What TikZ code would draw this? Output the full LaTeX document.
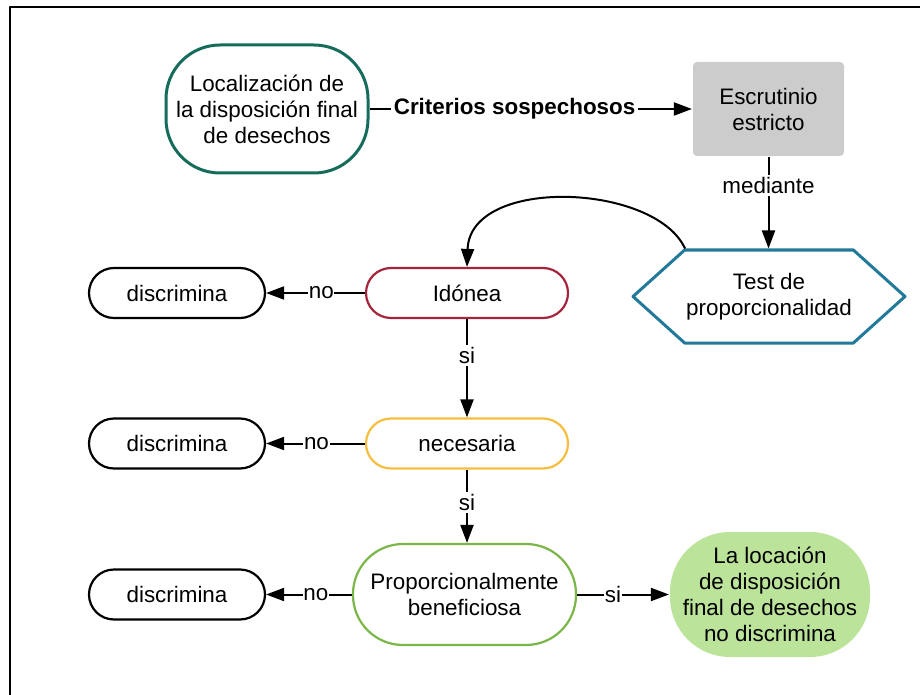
\documentclass[tikz,border=0pt]{standalone}
\usepackage{fontspec}
\setmainfont{Liberation Sans}
\usetikzlibrary{arrows.meta,shapes.symbols}
\definecolor{verdeosc}{RGB}{22,108,90}
\definecolor{rojoido}{RGB}{163,36,59}
\definecolor{amarillo}{RGB}{246,190,62}
\definecolor{verdeprop}{RGB}{122,182,72}
\definecolor{verdefin}{RGB}{188,227,154}
\definecolor{azultest}{RGB}{34,121,154}
\definecolor{grisesc}{RGB}{204,204,204}
\begin{document}
\begin{tikzpicture}[x=.5pt,y=-.5pt,line cap=butt,line join=round,>={Triangle[length=9pt,width=6.5pt]},font=\fontsize{11.2}{13}\selectfont]
	\tikzset{caja/.style={draw,line width=1.1pt,fill=white,align=center,inner sep=0pt},
		pildora/.style={caja,rounded corners=12.5pt,minimum height=25pt},
		etiq/.style={fill=white,inner sep=.3pt},
		flecha/.style={->,line width=1pt}
	}
	\useasboundingbox (0,0) rectangle (920,695);
	\draw[line width=1pt] (10,695)--(10,7)--(920,7);
	% parte superior
	\node[caja,draw=verdeosc,line width=1.5pt,rounded corners=27pt,minimum width=101pt,minimum height=64pt] (local) at (267,109) {Localización de\\la disposición final\\de desechos};
	\node[caja,draw=none,fill=grisesc,rounded corners=2pt,minimum width=75.5pt,minimum height=47pt] (escr) at (768.5,109) {Escrutinio\\estricto};
	\node[caja,draw=azultest,line width=1.5pt,shape=signal,signal to=east and west,signal pointer angle=84,minimum width=136pt,minimum height=46.5pt] (test) at (769,296.5) {Test de\\proporcionalidad};
	% pruebas
	\node[pildora,draw=rojoido,minimum width=101pt] (ido) at (467,293) {Idónea};
	\node[pildora,draw=amarillo,minimum width=101pt] (nec) at (467,443.5) {necesaria};
	\node[caja,draw=verdeprop,rounded corners=25pt,minimum width=111.5pt,minimum height=50.5pt] (prop) at (464.5,594.5) {Proporcionalmente\\beneficiosa};
	\node[caja,draw=none,fill=verdefin,rounded corners=30pt,minimum width=100pt,minimum height=62.5pt] (fin) at (770,594.5) {La locación\\de disposición\\final de desechos\\no discrimina};
	\node[pildora,minimum width=88pt] (disc1) at (177,293) {discrimina};
	\node[pildora,minimum width=88pt] (disc2) at (177,443.5) {discrimina};
	\node[pildora,minimum width=88pt] (disc3) at (177,594.5) {discrimina};
	% conectores
	\draw[flecha] (local) -- node[etiq,pos=.45,inner sep=1.5pt,font=\fontsize{11.2}{13}\selectfont\bfseries]{Criterios sospechosos} (escr);
	\draw[flecha] (escr.south) -- node[etiq,pos=.31,inner sep=1pt]{mediante} (escr.south |- test.north);
	\draw[flecha] ([xshift=-42pt]test.north) .. controls (655,183) and (470,176) .. (ido.north);
	\draw[flecha] (ido) -- node[etiq,pos=.44]{no} (disc1);
	\draw[flecha] (ido) -- node[etiq,pos=.37,inner sep=1pt]{si} (nec);
	\draw[flecha] (nec) -- node[etiq,pos=.49]{no} (disc2);
	\draw[flecha] (nec.south) -- node[etiq,pos=.45,inner sep=1pt]{si} (nec.south |- prop.north);
	\draw[flecha] (prop) -- node[etiq,pos=.42]{no} (disc3);
	\draw[flecha] (prop) -- node[etiq,pos=.39]{si} (fin);
\end{tikzpicture}
\end{document}
